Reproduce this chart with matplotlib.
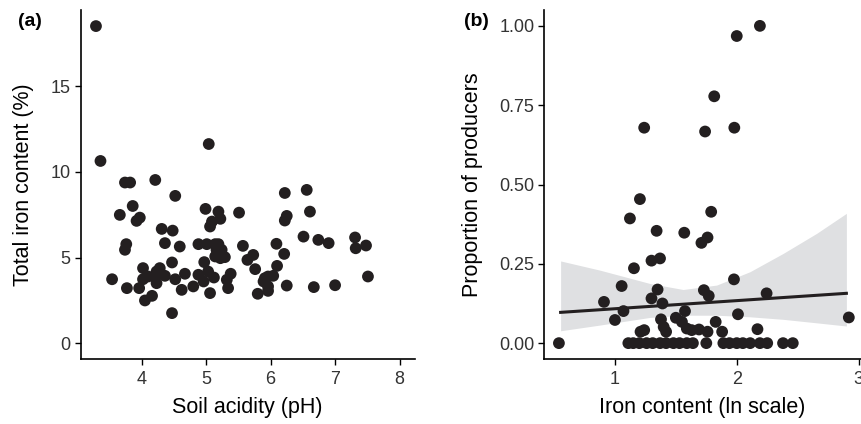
import matplotlib.pyplot as plt

plt.rcParams['font.family'] = ['Liberation Sans', 'DejaVu Sans']

# (a) soil pH vs total iron content (%)
ph = [3.29, 3.36, 3.74, 3.82, 4.21, 4.52, 5.04, 6.22, 6.56,
      3.66, 3.86, 3.92, 3.97, 3.76, 3.74, 3.54, 3.77, 3.96, 4.02,
      4.02, 4.10, 4.05, 4.16, 4.23, 4.28, 4.21, 4.23, 4.36, 4.31,
      4.48, 4.36, 4.47, 4.52, 4.47, 4.59, 4.67, 4.62, 4.80, 4.88,
      5.01, 5.14, 5.19, 4.99, 5.19, 5.22, 5.06, 5.09, 5.14, 5.22,
      5.29, 5.16, 5.24, 4.97, 4.88, 4.96, 5.03, 5.12, 5.06, 5.32,
      5.38, 5.34, 5.51, 5.57, 5.64, 5.73, 5.76, 5.80, 5.91, 5.96,
      6.04, 5.89, 5.96, 5.96, 6.09, 6.10, 6.21, 6.22, 6.25, 6.25,
      6.51, 6.61, 6.67, 6.74, 6.90, 7.00, 7.31, 7.32, 7.48, 7.51]
iron_pct = [18.52, 10.64, 9.38, 9.38, 9.53, 8.60, 11.63, 8.77, 8.95,
            7.49, 8.01, 7.14, 7.33, 5.78, 5.45, 3.73, 3.21, 3.21, 4.38,
            3.73, 3.89, 2.49, 2.76, 4.18, 4.38, 3.89, 3.50, 3.93, 6.67,
            6.57, 5.84, 4.71, 3.73, 1.75, 5.64, 4.05, 3.11, 3.31, 5.78,
            5.78, 5.78, 5.78, 7.84, 7.68, 7.26, 6.81, 7.10, 5.06, 4.96,
            5.02, 5.45, 5.45, 4.73, 3.99, 3.60, 4.18, 3.83, 2.92, 3.70,
            4.05, 3.21, 7.62, 5.68, 4.86, 5.15, 4.32, 2.88, 3.79, 3.89,
            3.93, 3.60, 3.31, 3.05, 5.80, 4.51, 5.21, 7.16, 7.43, 3.36,
            6.22, 7.68, 3.27, 6.03, 5.84, 3.38, 6.17, 5.54, 5.70, 3.89]

# (b) iron content (ln) vs proportion of producers
ln_iron = [2.19, 2.00, 1.815, 1.24, 1.74, 1.98, 1.205, 1.123, 1.79,
           1.342, 1.569, 1.71, 1.76, 1.30, 1.37, 1.156, 1.977, 1.055,
           1.35, 1.73, 1.77, 2.245, 0.91, 1.30, 1.39, 1.07, 1.575, 1.00,
           1.378, 1.50, 1.55, 2.01, 1.827, 2.92, 1.21, 1.24, 1.40, 1.42,
           1.59, 1.63, 1.69, 1.76, 1.88, 2.17, 0.54,
           1.11, 1.15, 1.20, 1.26, 1.31, 1.37, 1.42, 1.48, 1.53, 1.59,
           1.64, 1.75, 1.89, 1.94, 2.00, 2.05, 2.11, 2.19, 2.25, 2.38, 2.46]
prop = [1.00, 0.968, 0.778, 0.679, 0.667, 0.679, 0.454, 0.393, 0.414,
        0.354, 0.348, 0.316, 0.333, 0.260, 0.267, 0.236, 0.201, 0.180,
        0.169, 0.167, 0.149, 0.157, 0.130, 0.141, 0.125, 0.101, 0.101, 0.073,
        0.075, 0.080, 0.067, 0.091, 0.067, 0.081, 0.036, 0.041, 0.051, 0.036,
        0.046, 0.041, 0.043, 0.036, 0.036, 0.044, 0.0,
        0, 0, 0, 0, 0, 0, 0, 0, 0, 0,
        0, 0, 0, 0, 0, 0, 0, 0, 0, 0, 0]

# fitted line and confidence band
fit_x = [0.554, 2.90]
fit_y = [0.097, 0.157]
band_x = [0.554, 0.877, 1.287, 1.56, 1.835, 2.108, 2.382, 2.656, 2.90]
band_hi = [0.259, 0.230, 0.188, 0.169, 0.183, 0.225, 0.283, 0.346, 0.409]
band_lo = [0.039, 0.057, 0.081, 0.088, 0.088, 0.083, 0.075, 0.064, 0.054]

DOT = '#231f20'

fig = plt.figure(figsize=(8.61, 4.24), dpi=100)
ax_a = fig.add_axes([80.5 / 861, 65 / 424, (415 - 80.5) / 861, 349 / 424])
ax_b = fig.add_axes([544.3 / 861, 65 / 424, (861 - 544.3) / 861, 349 / 424])


def style(ax):
    for side in ('top', 'right'):
        ax.spines[side].set_visible(False)
    for side in ('left', 'bottom'):
        ax.spines[side].set_linewidth(1.2)
        ax.spines[side].set_color('black')
    ax.tick_params(direction='out', length=4, width=1.0, labelsize=13,
                   colors='black', labelcolor='#333333', pad=3)
    ax.tick_params(axis='x', pad=5)


ax_a.scatter(ph, iron_pct, s=72, color=DOT, edgecolors='none', zorder=3)
ax_a.set_xlim(3.05, 8.24)
ax_a.set_ylim(-0.93, 19.46)
ax_a.set_xticks([4, 5, 6, 7, 8])
ax_a.set_yticks([0, 5, 10, 15])
ax_a.set_xlabel('Soil acidity (pH)', fontsize=15.5, labelpad=6)
ax_a.set_ylabel('Total iron content (%)', fontsize=15.5, labelpad=12)
style(ax_a)

ax_b.fill_between(band_x, band_lo, band_hi, color='#dfe0e2', linewidth=0, zorder=1)
ax_b.plot(fit_x, fit_y, color=DOT, linewidth=2.2, zorder=2)
ax_b.scatter(ln_iron, prop, s=72, color=DOT, edgecolors='none', zorder=3)
ax_b.set_xlim(0.42, 3.02)
ax_b.set_ylim(-0.05, 1.05)
ax_b.set_xticks([1, 2, 3])
ax_b.set_yticks([0, 0.25, 0.5, 0.75, 1.0])
ax_b.set_yticklabels(['0.00', '0.25', '0.50', '0.75', '1.00'])
ax_b.set_xlabel('Iron content (ln scale)', fontsize=15.5, labelpad=6)
ax_b.set_ylabel('Proportion of producers', fontsize=15.5, labelpad=12)
style(ax_b)
ax_b.spines['bottom'].set_bounds(0.42, 3.1)

fig.text(30 / 861, 1 - 22 / 424, '(a)', fontsize=14, fontweight='bold',
         ha='center', va='center')
fig.text(476 / 861, 1 - 21 / 424, '(b)', fontsize=14, fontweight='bold',
         ha='center', va='center')

fig.savefig('out.png', dpi=100)
